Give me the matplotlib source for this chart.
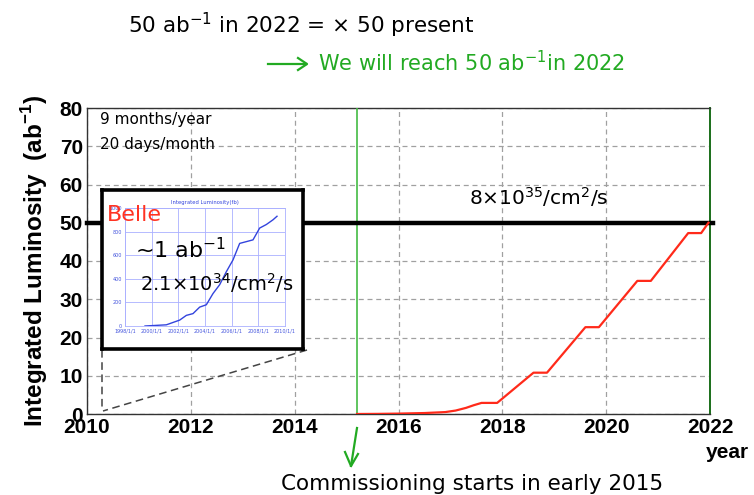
import matplotlib
matplotlib.use("Agg")
import matplotlib.pyplot as plt
from matplotlib.lines import Line2D

# ---------------- data ----------------
years = [2015.2, 2015.6, 2016.0, 2016.5, 2016.9, 2017.1, 2017.3, 2017.45, 2017.6, 2017.9,
         2018.6, 2018.86, 2019.6, 2019.86, 2020.6, 2020.86, 2021.58, 2021.83, 2021.97]
lumi = [0, 0.03, 0.1, 0.25, 0.5, 0.9, 1.6, 2.3, 2.9, 2.9,
        10.8, 10.8, 22.7, 22.7, 34.8, 34.8, 47.3, 47.3, 50]
target_lumi = 50
start_year = 2015.2
end_year = 2022
x_ticks = [2010, 2012, 2014, 2016, 2018, 2020, 2022]
y_ticks = [0, 10, 20, 30, 40, 50, 60, 70, 80]

belle_years = [1999.5, 2001.1, 2002.1, 2002.6, 2003.1, 2003.6, 2004.1, 2004.6, 2005.1,
               2005.6, 2006.1, 2006.6, 2007.1, 2007.6, 2008.1, 2008.6, 2009.1, 2009.4]
belle_lumi = [0, 10, 50, 90, 105, 160, 180, 275, 350,
              460, 560, 700, 715, 730, 830, 860, 900, 930]
belle_xticks = [1998, 2000, 2002, 2004, 2006, 2008, 2010]
belle_xlabels = ["1998/1/1", "2000/1/1", "2002/1/1", "2004/1/1", "2006/1/1", "2008/1/1", "2010/1/1"]
belle_yticks = [0, 200, 400, 600, 800, 1000]

W, H = 754, 495
fig = plt.figure(figsize=(W / 100, H / 100), dpi=100)

def fx(px):
    return px / W

def fy(py):
    return 1 - py / H

ax = fig.add_axes([fx(87), fy(414), fx(710) - fx(87), fy(108) - fy(414)])
ax.set_xlim(2010, 2022)
ax.set_ylim(0, 80)
ax.set_xticks(x_ticks)
ax.set_yticks(y_ticks)
ax.tick_params(length=0, pad=3)
for lab in ax.get_xticklabels() + ax.get_yticklabels():
    lab.set_fontfamily("Liberation Sans")
    lab.set_fontweight("bold")
    lab.set_fontsize(15)
ax.grid(True, color="#a0a0a0", linestyle=(0, (4, 3)), linewidth=0.9)
for s in ["left", "bottom", "top"]:
    ax.spines[s].set_color("#333333")
    ax.spines[s].set_linewidth(1.0)
ax.spines["right"].set_color("#1a6e1a")
ax.spines["right"].set_linewidth(1.4)

ax.axvline(start_year, color="#44bb44", linewidth=1.2, zorder=3)
ax.plot([2010, end_year + 0.05], [target_lumi, target_lumi], color="black", linewidth=3.2,
        zorder=4, clip_on=False)
ax.plot(years, lumi, color="#ff2a1a", linewidth=1.6, zorder=5)

ax.set_ylabel("Integrated Luminosity  (ab$^{\\mathregular{-1}}$)", fontsize=17.5,
              fontweight="bold", family="Liberation Sans", labelpad=7)

hand = "DejaVu Sans"
ax.text(2010.25, 77, "9 months/year", fontsize=11, family=hand, va="center")
ax.text(2010.25, 70.5, "20 days/month", fontsize=11, family=hand, va="center")
ax.text(2017.35, 56.8, "8$\\times$10$^{35}$/cm$^{2}$/s", fontsize=14.5, family=hand, va="center")

# inset box
box_l, box_r, box_t, box_b = 102, 303, 190, 349
inset = fig.add_axes([fx(box_l), fy(box_b), fx(box_r) - fx(box_l), fy(box_t) - fy(box_b)])
inset.set_xticks([])
inset.set_yticks([])
inset.set_facecolor("white")
for s in inset.spines.values():
    s.set_linewidth(2.6)
    s.set_color("black")
inset.set_zorder(6)

# connecting dashed lines from the inset to 2010
inv = ax.transData.inverted()
def to_data(px, py):
    return inv.transform((px, H - py))
p_bl = to_data(box_l, box_b + 1)
p_br = to_data(box_r + 4, box_b + 1)
p_end = to_data(box_l + 1, 411)
ax.plot([p_bl[0], p_bl[0]], [p_bl[1], p_end[1]], color="#444444", linestyle=(0, (5, 3)),
        linewidth=1.1, zorder=3)
ax.plot([p_br[0], p_end[0]], [p_br[1], p_end[1]], color="#444444", linestyle=(0, (5, 3)),
        linewidth=1.1, zorder=3)

# Belle small plot
bax = fig.add_axes([fx(125), fy(326), fx(285) - fx(125), fy(208) - fy(326)])
bax.set_zorder(7)
bax.plot(belle_years, belle_lumi, color="#3344dd", linewidth=1.0)
bax.set_xlim(1998, 2010)
bax.set_ylim(0, 1000)
bax.set_xticks(belle_xticks)
bax.set_xticklabels(belle_xlabels)
bax.set_yticks(belle_yticks)
bax.tick_params(length=0, labelsize=3.5, labelcolor="#4455dd", pad=2)
bax.grid(True, color="#aab0ff", linewidth=0.6)
for s in bax.spines.values():
    s.set_color("#aab0ff")
    s.set_linewidth(0.6)
bax.set_title("Integrated Luminosity(fb)", fontsize=3.8, color="#3344dd", pad=3)

fig.text(fx(107), fy(215), "Belle", color="#ff3322", fontsize=16, family=hand, va="center",
         zorder=10)
fig.text(fx(135), fy(250), "~1 ab$^{-1}$", color="black", fontsize=16, family=hand, va="center",
         zorder=10)
fig.text(fx(140), fy(283), "2.1$\\times$10$^{34}$/cm$^{2}$/s", color="black", fontsize=14,
         family=hand, va="center", zorder=10)

# top annotations
fig.text(fx(128), fy(25), "50 ab$^{-1}$ in 2022 = $\\times$ 50 present", fontsize=15.5,
         family=hand, va="center")
fig.add_artist(Line2D([fx(268), fx(306)], [fy(64), fy(64)], color="#22aa22", linewidth=1.6))
fig.add_artist(Line2D([fx(298), fx(307), fx(298)], [fy(58), fy(64), fy(70)], color="#22aa22",
                      linewidth=1.6))
fig.text(fx(318), fy(63), "We will reach 50 ab$^{-1}$in 2022", fontsize=15, family=hand,
         color="#22aa22", va="center")

fig.text(fx(727), fy(452), "year", fontsize=15, fontweight="bold", family="Liberation Sans",
         ha="center", va="center")

# commissioning arrow & text
fig.add_artist(Line2D([fx(357), fx(351)], [fy(428), fy(466)], color="#22aa22", linewidth=1.6))
fig.add_artist(Line2D([fx(345), fx(351), fx(358)], [fy(452), fy(466), fy(454)],
                      color="#22aa22", linewidth=1.6))
fig.text(fx(472), fy(484), "Commissioning starts in early 2015", fontsize=15.5, family=hand,
         ha="center", va="center")

fig.savefig("out.png", dpi=100)
